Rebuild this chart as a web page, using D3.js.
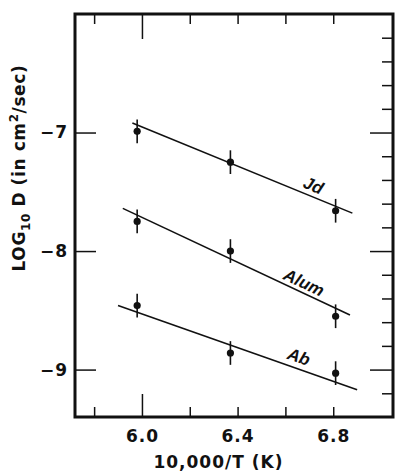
<!DOCTYPE html>
<html>
<head>
<meta charset="utf-8">
<script src="https://cdn.jsdelivr.net/npm/d3@7"></script>
<style>
	body { margin: 0; background: #fff; }
	text { font-family: "DejaVu Sans", sans-serif; fill: #111; }
</style>
</head>
<body>
<div id="chart"></div>
<script>
// measured points (10,000/T vs log10 D)
const invT = [5.98, 6.37, 6.81];
const series = ["Jd", "Alum", "Ab"];
const jdValues = [-6.99, -7.25, -7.66];
const alumValues = [-7.75, -8.00, -8.55];
const abValues = [-8.46, -8.86, -9.03];
const errHalf = [0.1, 0.1, 0.1];

// fitted lines, start and end points
const jdLine = [[5.96, -6.92], [6.88, -7.68]];
const alumLine = [[5.92, -7.64], [6.87, -8.54]];
const abLine = [[5.90, -8.46], [6.90, -9.17]];

// where the series names sit along their line
const labelAt = [6.70, 6.66, 6.64];

// ticks
const xTicks = [5.8, 6.0, 6.2, 6.4, 6.6, 6.8];
const xTickLabels = [6.0, 6.4, 6.8];
const yTicksLeft = [-7, -8, -9];
const yTicksRight = [-6.2, -6.4, -6.6, -6.8, -7, -7.2, -7.4, -7.6, -7.8, -8, -8.2, -8.4, -8.6, -8.8, -9, -9.2];

const W = 398, H = 472;
const margin = {top: 14, right: 5, bottom: 55, left: 75};
const width = W - margin.left - margin.right;
const height = H - margin.top - margin.bottom;

const svg = d3.select("#chart").append("svg")
	.attr("width", W)
	.attr("height", H)
	.append("g")
	.attr("transform", `translate(${margin.left},${margin.top})`);

const x = d3.scaleLinear().domain([5.72, 7.05]).range([0, width]);
const y = d3.scaleLinear().domain([-9.4, -6.0]).range([height, 0]);

const isInt = (v) => Math.abs(v - Math.round(v)) < 1e-6;
const near = (a, b) => Math.abs(a - b) < 1e-6;

// bottom axis
const xb = svg.append("g")
	.attr("transform", `translate(0,${height})`)
	.call(d3.axisBottom(x).tickValues(xTicks).tickSizeOuter(0)
		.tickFormat((d) => xTickLabels.some((v) => near(v, d)) ? d3.format(".1f")(d) : ""));
xb.select(".domain").remove();
xb.selectAll(".tick line")
	.attr("y2", (d) => near(d, 6.0) ? -23 : -10)
	.attr("stroke", "#111").attr("stroke-width", 1.5);
xb.selectAll(".tick text")
	.attr("y", 10)
	.attr("dy", "0.9em")
	.style("font-size", "17px").style("font-weight", "bold").style("letter-spacing", "1px");

// top axis
const xt = svg.append("g")
	.call(d3.axisTop(x).tickValues(xTicks).tickFormat("").tickSizeOuter(0));
xt.select(".domain").remove();
xt.selectAll(".tick line")
	.attr("y2", (d) => near(d, 6.0) ? 25 : 10)
	.attr("stroke", "#111").attr("stroke-width", 1.5);

// left axis
const yl = svg.append("g")
	.call(d3.axisLeft(y).tickValues(yTicksLeft).tickSizeOuter(0).tickFormat(d3.format("d")));
yl.select(".domain").remove();
yl.selectAll(".tick line")
	.attr("x2", 21)
	.attr("stroke", "#111").attr("stroke-width", 1.5);
yl.selectAll(".tick text")
	.attr("x", -7)
	.style("font-size", "17px").style("font-weight", "bold").style("letter-spacing", "1px");

// right axis
const yr = svg.append("g")
	.attr("transform", `translate(${width},0)`)
	.call(d3.axisRight(y).tickValues(yTicksRight).tickFormat("").tickSizeOuter(0));
yr.select(".domain").remove();
yr.selectAll(".tick line")
	.attr("x2", (d) => isInt(d) ? -23 : -11)
	.attr("stroke", "#111").attr("stroke-width", 1.5);

// frame
svg.append("rect")
	.attr("x", 0).attr("y", 0)
	.attr("width", width).attr("height", height)
	.attr("fill", "none")
	.attr("stroke", "#111")
	.attr("stroke-width", 3);

// fit lines
const lines = [jdLine, alumLine, abLine];
svg.selectAll(".fit")
	.data(lines)
	.enter()
	.append("line")
	.attr("class", "fit")
	.attr("x1", (d) => x(d[0][0]))
	.attr("y1", (d) => y(d[0][1]))
	.attr("x2", (d) => x(d[1][0]))
	.attr("y2", (d) => y(d[1][1]))
	.attr("stroke", "#111")
	.attr("stroke-width", 1.6);

// points with error bars
const pts = [];
[jdValues, alumValues, abValues].forEach((vals) => {
	vals.forEach((v, i) => pts.push({x: invT[i], y: v, e: errHalf[i]}));
});

svg.selectAll(".err")
	.data(pts)
	.enter()
	.append("line")
	.attr("class", "err")
	.attr("x1", (d) => x(d.x))
	.attr("x2", (d) => x(d.x))
	.attr("y1", (d) => y(d.y + d.e))
	.attr("y2", (d) => y(d.y - d.e))
	.attr("stroke", "#111")
	.attr("stroke-width", 1.6);

svg.selectAll(".pt")
	.data(pts)
	.enter()
	.append("circle")
	.attr("class", "pt")
	.attr("cx", (d) => x(d.x))
	.attr("cy", (d) => y(d.y))
	.attr("r", 3.6)
	.attr("fill", "#111");

// series names, laid along their lines
const offsets = [11, 10, 12];
lines.forEach((ln, i) => {
	const x1 = x(ln[0][0]), y1 = y(ln[0][1]), x2 = x(ln[1][0]), y2 = y(ln[1][1]);
	const ang = Math.atan2(y2 - y1, x2 - x1);
	const t = (labelAt[i] - ln[0][0]) / (ln[1][0] - ln[0][0]);
	const lx = x1 + t * (x2 - x1) + Math.sin(ang) * offsets[i];
	const ly = y1 + t * (y2 - y1) - Math.cos(ang) * offsets[i];
	svg.append("text")
		.attr("transform", `translate(${lx},${ly}) rotate(${ang * 180 / Math.PI})`)
		.attr("text-anchor", "middle")
		.attr("dy", "0.35em")
		.style("font-family", "'Liberation Sans', sans-serif")
		.style("font-size", "17px")
		.style("font-weight", "bold")
		.style("font-style", "italic")
		.text(series[i]);
});

// axis titles
svg.append("text")
	.attr("x", x(6.32))
	.attr("y", height + 51)
	.attr("text-anchor", "middle")
	.style("font-size", "17px").style("font-weight", "bold").style("letter-spacing", "1px")
	.text("10,000/T (K)");

const yt = svg.append("text")
	.attr("transform", `translate(${-margin.left + 25},${y(-7.3)}) rotate(-90)`)
	.attr("text-anchor", "middle")
	.style("font-size", "17px").style("font-weight", "bold").style("letter-spacing", "0.6px");
yt.append("tspan").text("LOG");
yt.append("tspan").attr("dy", 5).style("font-size", "12px").text("10");
yt.append("tspan").attr("dy", -5).text(" D (in cm");
yt.append("tspan").attr("dy", -7).style("font-size", "12px").text("2");
yt.append("tspan").attr("dy", 7).text("/sec)");
</script>
</body>
</html>
